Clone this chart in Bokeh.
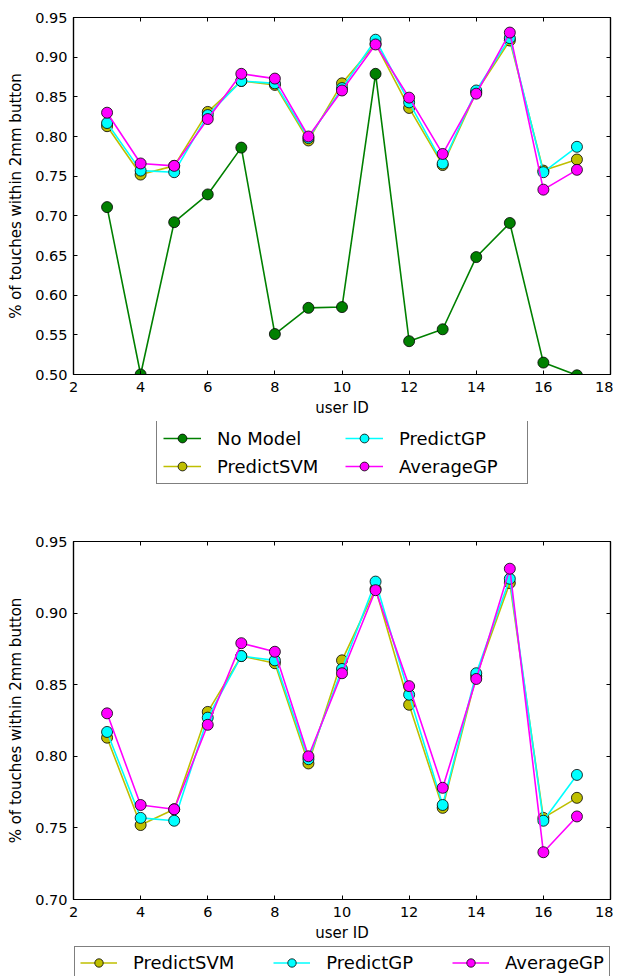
from bokeh.plotting import figure
from bokeh.layouts import column
from bokeh.models import (Legend, LegendItem, LinearAxis, FixedTicker,
                          NumeralTickFormatter, Range1d, ColumnDataSource)
from bokeh.embed import file_html
from bokeh.resources import INLINE

# ---------------- data ----------------
user_id = [3, 4, 5, 6, 7, 8, 9, 10, 11, 12, 13, 14, 15, 16, 17]
no_model = [0.711, 0.500, 0.692, 0.727, 0.786, 0.551, 0.584, 0.585, 0.879,
            0.542, 0.557, 0.648, 0.691, 0.515, 0.499]
predict_svm = [0.813, 0.752, 0.763, 0.831, 0.870, 0.865, 0.795, 0.867, 0.917,
               0.836, 0.764, 0.856, 0.921, 0.757, 0.771]
predict_gp = [0.817, 0.757, 0.755, 0.827, 0.870, 0.867, 0.798, 0.861, 0.922,
              0.843, 0.766, 0.858, 0.924, 0.755, 0.787]
average_gp = [0.830, 0.766, 0.763, 0.822, 0.879, 0.873, 0.800, 0.858, 0.916,
              0.849, 0.778, 0.854, 0.931, 0.733, 0.758]

x_ticks = [2, 4, 6, 8, 10, 12, 14, 16, 18]
y_ticks_top = [0.50, 0.55, 0.60, 0.65, 0.70, 0.75, 0.80, 0.85, 0.90, 0.95]
y_ticks_bottom = [0.70, 0.75, 0.80, 0.85, 0.90, 0.95]

x_label = "user ID"
y_label = "% of touches within 2mm button"

series_top = [("No Model", no_model, "#008000"),
              ("PredictSVM", predict_svm, "#bfbf00"),
              ("PredictGP", predict_gp, "#00ffff"),
              ("AverageGP", average_gp, "#ff00ff")]
series_bottom = series_top[1:]
styles = {name: color for name, _, color in series_top}

FONT = "DejaVu Sans"
W = 613


def style_axis(ax, show_labels=True):
    ax.major_tick_in = 4
    ax.major_tick_out = 0
    ax.minor_tick_line_color = None
    ax.axis_line_color = "black"
    ax.axis_line_width = 1.2
    ax.major_tick_line_color = "black"
    ax.major_label_text_font = FONT
    if show_labels:
        ax.major_label_text_color = "black"
        ax.major_label_text_font_size = "14.5px"
    else:
        ax.major_label_text_color = None
        ax.major_label_text_font_size = "1px"
        ax.major_label_standoff = 0
        ax.axis_label = None


def make_fig(series, y_lo, y_hi, y_ticks, height, border_top, border_bottom):
    p = figure(width=W, height=height, output_backend="svg",
               toolbar_location=None,
               x_range=Range1d(2, 18), y_range=Range1d(y_lo, y_hi),
               min_border_left=73, min_border_right=3,
               min_border_top=border_top, min_border_bottom=border_bottom)
    p.grid.visible = False
    p.outline_line_color = "black"
    p.outline_line_width = 1.2
    p.background_fill_color = "white"
    p.border_fill_color = "white"

    xt = FixedTicker(ticks=x_ticks)
    yt = FixedTicker(ticks=y_ticks)
    p.xaxis.ticker = xt
    p.yaxis.ticker = yt
    p.yaxis.formatter = NumeralTickFormatter(format="0.00")
    style_axis(p.xaxis[0])
    style_axis(p.yaxis[0])
    p.xaxis.major_label_standoff = 7
    p.yaxis.major_label_standoff = 6
    p.xaxis.axis_label = x_label
    p.yaxis.axis_label = y_label
    for ax in (p.xaxis[0], p.yaxis[0]):
        ax.axis_label_text_font = FONT
        ax.axis_label_text_font_size = "15px"
        ax.axis_label_text_font_style = "normal"
        ax.axis_label_text_color = "black"
    p.xaxis.axis_label_standoff = 4
    p.yaxis.axis_label_standoff = 7

    top_ax = LinearAxis(ticker=xt)
    style_axis(top_ax, show_labels=False)
    p.add_layout(top_ax, "above")
    right_ax = LinearAxis(ticker=yt)
    style_axis(right_ax, show_labels=False)
    p.add_layout(right_ax, "right")

    for name, vals, color in series:
        src = ColumnDataSource(dict(x=user_id, y=vals))
        p.line("x", "y", source=src, line_color=color, line_width=1.6)
        p.scatter("x", "y", source=src, size=11, marker="circle",
                  fill_color=color, line_color="black", line_width=0.8)
    return p


def legend_fig(names, height):
    """A blank strip that only carries the legend of the plot above it."""
    q = figure(width=W, height=height, output_backend="svg",
               toolbar_location=None, x_axis_type=None, y_axis_type=None,
               x_range=Range1d(0, 1), y_range=Range1d(0, 1),
               min_border_left=73, min_border_right=3,
               min_border_top=0, min_border_bottom=0)
    q.grid.visible = False
    q.outline_line_color = None
    q.background_fill_color = "white"
    q.border_fill_color = "white"
    items = {}
    nan = float("nan")
    for name in names:
        # one NaN row: nothing is drawn in the strip, only the legend glyph
        src = ColumnDataSource(dict(x=[nan], y=[nan]))
        ln = q.line("x", "y", source=src, line_color=styles[name],
                    line_width=1.6)
        sc = q.scatter("x", "y", source=src, size=10, marker="circle",
                       fill_color=styles[name], line_color="black",
                       line_width=0.8)
        items[name] = LegendItem(label=name, renderers=[ln, sc])
    return q, items


def legend_style(lg):
    lg.label_text_font = FONT
    lg.label_text_font_size = "18px"
    lg.label_text_color = "black"
    lg.glyph_width = 38
    lg.glyph_height = 22
    lg.label_height = 22
    lg.label_standoff = 16
    lg.padding = 6
    lg.spacing = 6
    lg.margin = 0
    lg.border_line_color = "black"
    lg.border_line_width = 1.3
    lg.background_fill_color = "white"
    lg.background_fill_alpha = 1.0


# ---------------- top plot + its legend ----------------
p1 = make_fig(series_top, 0.50, 0.95, y_ticks_top, 421, 17, 47)

q1, it1 = legend_fig([s[0] for s in series_top], 100)
lg1 = Legend(items=[it1["No Model"], it1["PredictSVM"],
                    it1["PredictGP"], it1["AverageGP"]],
             location=(83, 37), orientation="vertical", ncols=2)
legend_style(lg1)
lg1.label_width = 122
q1.add_layout(lg1, "center")

# ---------------- bottom plot + its legend ----------------
p2 = make_fig(series_bottom, 0.70, 0.95, y_ticks_bottom, 425, 20, 47)

q2, it2 = legend_fig([s[0] for s in series_bottom], 30)
lg2 = Legend(items=[it2["PredictSVM"], it2["PredictGP"], it2["AverageGP"]],
             location=(1, -3), orientation="horizontal")
legend_style(lg2)
lg2.glyph_width = 37
lg2.glyph_height = 21
lg2.label_height = 21
lg2.padding = 5
lg2.spacing = 39
q2.add_layout(lg2, "center")

layout = column(p1, q1, p2, q2, spacing=0)
open("out.html", "w").write(file_html(layout, INLINE))
